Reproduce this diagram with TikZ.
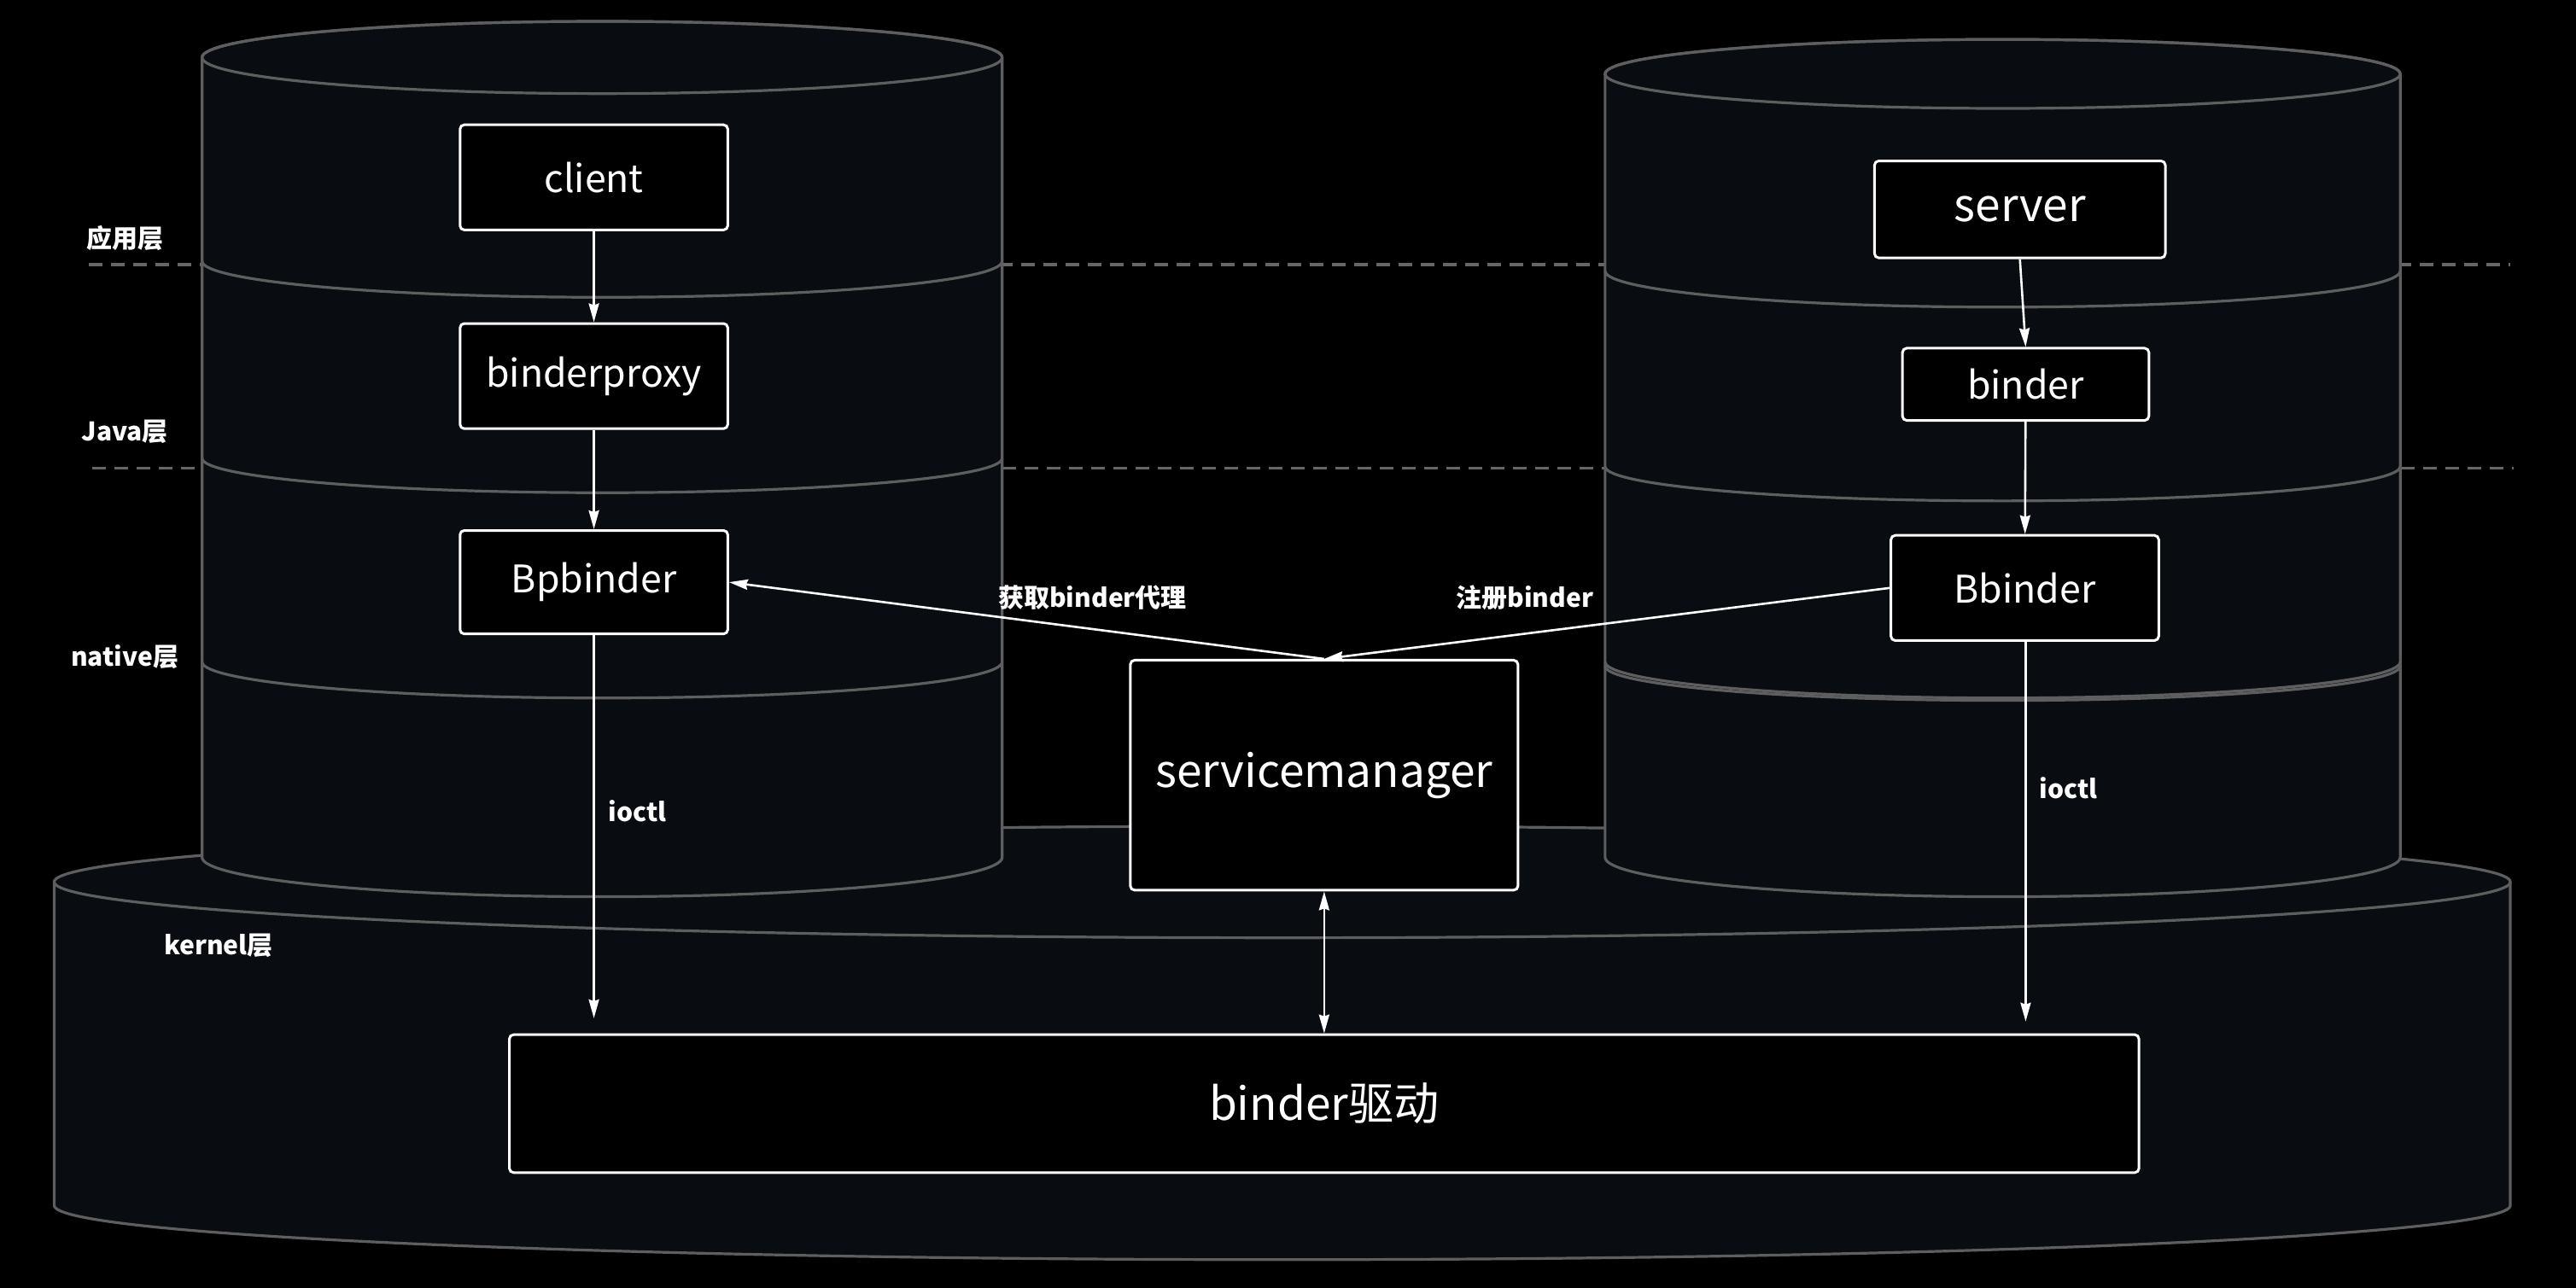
\documentclass[tikz,border=0pt]{standalone}
\usepackage{fontspec}
\setmainfont{Noto Sans CJK SC}
\usetikzlibrary{arrows.meta}
\definecolor{cylfill}{HTML}{090C10}
\definecolor{cylline}{HTML}{5E5E5E}
\definecolor{dashcol}{HTML}{666666}
\begin{document}
\begin{tikzpicture}[x=0.96205pt, y=-0.96205pt,
  cyl/.style={fill=cylfill, draw=cylline, line width=1.6pt},
  cylarc/.style={draw=cylline, line width=1.6pt},
  dashline/.style={draw=dashcol, line width=1.8pt, dash pattern=on 8pt off 5pt},
  box/.style={draw=white, line width=1.5pt, fill=black, rounded corners=2.5pt, text=white, inner sep=0pt, font=\fontsize{22.3}{26}\selectfont},
  bigbox/.style={box, font=\fontsize{26.6}{31}\selectfont},
  arr/.style={draw=white, line width=1.3pt, -{Stealth[length=11pt,width=6pt,inset=1pt]}},
  darr/.style={draw=white, line width=1.3pt, {Stealth[length=11pt,width=6pt,inset=1pt]}-{Stealth[length=11pt,width=6pt,inset=1pt]}},
  lbl/.style={text=white, font=\bfseries\fontsize{15}{18}\selectfont, inner sep=0pt}
]
% background
\fill[black] (0,0) rectangle (1568,784);
\useasboundingbox (0,0) rectangle (1568,784);

% dashed layer separators
\draw[dashline] (54,161) -- (1528,161);
\draw[dashline] (56,285) -- (1530,285);

% kernel cylinder
\path[cyl] (33,537) -- (33,734) arc[start angle=180, end angle=0, x radius=747.5, y radius=33]
  -- (1528,537) arc[start angle=0, end angle=-180, x radius=747.5, y radius=34] -- cycle;
\draw[cylarc] (33,537) arc[start angle=180, end angle=0, x radius=747.5, y radius=34];

% left cylinder (client)
\path[cyl] (123,35) -- (123,522) arc[start angle=180, end angle=0, x radius=243.5, y radius=24]
  -- (610,35) arc[start angle=0, end angle=-180, x radius=243.5, y radius=22] -- cycle;
\draw[cylarc] (366.5,35) ellipse[x radius=243.5, y radius=22];
\draw[cylarc] (123,159) arc[start angle=180, end angle=0, x radius=243.5, y radius=22];
\draw[cylarc] (123,279) arc[start angle=180, end angle=0, x radius=243.5, y radius=21];
\draw[cylarc] (123,403) arc[start angle=180, end angle=0, x radius=243.5, y radius=22];

% right cylinder (server)
\path[cyl] (977,45) -- (977,522) arc[start angle=180, end angle=0, x radius=242, y radius=24]
  -- (1461,45) arc[start angle=0, end angle=-180, x radius=242, y radius=21] -- cycle;
\draw[cylarc] (1219,45) ellipse[x radius=242, y radius=21];
\draw[cylarc] (977,165) arc[start angle=180, end angle=0, x radius=242, y radius=22];
\draw[cylarc] (977,284) arc[start angle=180, end angle=0, x radius=242, y radius=21];
\draw[cylarc] (977,403) arc[start angle=180, end angle=0, x radius=242, y radius=22];
\draw[cylarc] (977,405.5) arc[start angle=180, end angle=0, x radius=242, y radius=21];

% layer labels
\node[lbl] (lapp) at (76,145) {应用层};
\node[lbl] (ljava) at (76,263) {Java层};
\node[lbl] (lnative) at (76,400) {native层};
\node[lbl] (lkernel) at (133,576) {kernel层};

% boxes
\node[box, minimum width=156.8pt, minimum height=61.6pt] (client) at (361.5,108) {client};
\node[box, minimum width=156.8pt, minimum height=61.6pt] (proxy) at (361.5,229) {binderproxy};
\node[box, minimum width=156.8pt, minimum height=60.6pt] (bp) at (361.5,354.5) {Bpbinder};
\node[bigbox, minimum width=170.3pt, minimum height=56.8pt] (server) at (1229.5,127.5) {server};
\node[box, minimum width=144.3pt, minimum height=42.3pt] (binder) at (1233,234) {binder};
\node[box, minimum width=156.8pt, minimum height=61.6pt] (bb) at (1232.5,358) {Bbinder};
\node[bigbox, minimum width=227pt, minimum height=134.7pt] (sm) at (806,472) {servicemanager};
\node[bigbox, minimum width=954.3pt, minimum height=80.8pt] (drv) at (806,672) {binder驱动};

% connectors
\draw[arr] (client) -- (proxy);
\draw[arr] (proxy) -- (bp);
\draw[arr] (server.south) -- (binder.north);
\draw[arr] (binder) -- (bb);
\draw[arr] (sm.north) -- (bp.east);
\draw[arr] (bb.west) -- (sm.north);
\coordinate (e1) at (361.5,620);
\coordinate (e2) at (1233,622);
\draw[arr] (bp.south) -- (e1);
\draw[arr] (bb.south -| e2) -- (e2);
\draw[darr] (sm.south) -- (drv.north);

% connector labels
\node[lbl] (t1) at (665,364) {获取binder代理};
\node[lbl] (t2) at (928,364) {注册binder};
\node[lbl] (t3) at (388,494) {ioctl};
\node[lbl] (t4) at (1259,480) {ioctl};
\end{tikzpicture}
\end{document}
